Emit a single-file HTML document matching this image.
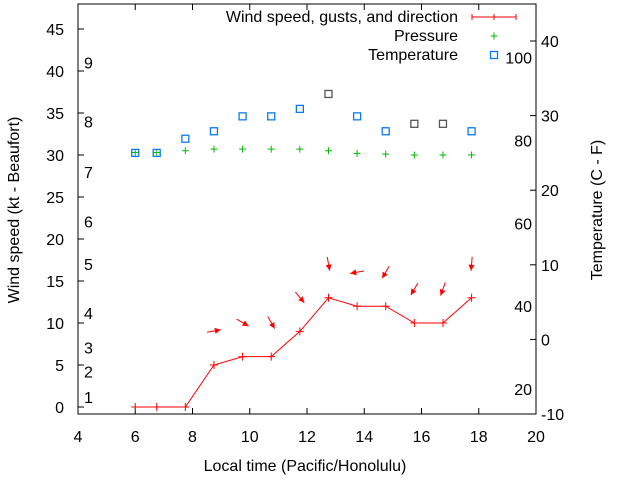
<!DOCTYPE html>
<html><head><meta charset="utf-8"><style>
body{margin:0;background:#fff;width:640px;height:480px;overflow:hidden}
svg{font-family:"Liberation Sans",sans-serif;font-size:16px}
</style></head><body>
<svg id="c" width="640" height="480"></svg>
<script>
const times=[6,6.75,7.75,8.75,9.75,10.75,11.75,12.75,13.75,14.75,15.75,16.75,17.75];
const windKt=[0,0,0,5,6,6,9,13,12,12,10,10,13];
const windDir=[null,null,null,260,300,330,320,350,80,30,30,20,5];
const pressure=[30.3,30.3,30.5,30.7,30.7,30.7,30.7,30.5,30.2,30.1,30.0,30.0,30.0];
const tempC=[25,25,26.9,27.9,29.9,29.9,30.9,32.9,29.9,27.9,28.9,28.9,27.9];
const tempGray=[0,0,0,0,0,0,0,1,0,0,1,1,0];
const xTicks=[4,6,8,10,12,14,16,18,20];
const yTicks=[0,5,10,15,20,25,30,35,40,45];
const cTicks=[-10,0,10,20,30,40];
const fLabels=[20,40,60,80,100];
const beaufort=[1,2,3,4,5,6,7,8,9];
const beaufortKt=[1.2,4.2,7.1,11.2,17,22.1,28,34,41];

const L=78,R=536,T=4,B=414;
const X=v=>L+(v-4)*(R-L)/16;
const Y=v=>407-v*8.4;
const YC=c=>414-(c+10)*7.46;
const NS="http://www.w3.org/2000/svg";
const svg=document.getElementById('c');
function mk(tag,at,parent){const e=document.createElementNS(NS,tag);for(const k in at)e.setAttribute(k,at[k]);(parent||svg).appendChild(e);return e;}
function txt(x,y,s,anchor,parent){const t=mk('text',{x:x,y:y,'text-anchor':anchor||'middle',fill:'#000'},parent);t.textContent=s;return t;}

const frame=mk('rect',{x:L,y:T,width:R-L,height:B-T,fill:'none',stroke:'#000'});



xTicks.forEach(v=>{const x=X(v);
 mk('line',{x1:x,y1:B,x2:x,y2:B-6,stroke:'#000'});mk('line',{x1:x,y1:T,x2:x,y2:T+6,stroke:'#000'});
 const t=txt(x,442,String(v));
 
 });
yTicks.forEach(v=>{const y=Y(v);
 mk('line',{x1:L,y1:y,x2:L+6,y2:y,stroke:'#000'});
 const t=txt(64,y+6,String(v),'end');
 
 });
cTicks.forEach(v=>{const y=YC(v);
 mk('line',{x1:R,y1:y,x2:R-6,y2:y,stroke:'#000'});
 const t=txt(541,y+6,String(v),'start');
 
 });
fLabels.forEach(f=>{const y=YC((f-32)*5/9);
 const t=txt(532,y+6,String(f),'end');
 
 });
beaufort.forEach((b,i)=>{
 const t=txt(84,Y(beaufortKt[i])+6,String(b),'start');
 
 });

let t=txt(305,471,'Local time (Pacific/Honolulu)');


t=txt(0,0,'Wind speed (kt - Beaufort)');t.setAttribute('transform','translate(19,210) rotate(-90)');


t=txt(0,0,'Temperature (C - F)');t.setAttribute('transform','translate(602,210) rotate(-90)');



const pl=mk('polyline',{points:times.map((v,i)=>X(v)+','+Y(windKt[i])).join(' '),fill:'none',stroke:'#f00'});


times.forEach((v,i)=>{const x=X(v),y=Y(windKt[i]);
 const g=mk('path',{d:`M${x-4},${y}H${x+4}M${x},${y-4}V${y+4}`,stroke:'#f00'});
 
 
 if(windDir[i]!==null){
  const a=(windDir[i]+180)*Math.PI/180,dx=Math.sin(a),dy=-Math.cos(a);
  const cx=x,cy=y-34,len=14;
  const hx=cx+dx*len/2,hy=cy+dy*len/2,tx=cx-dx*len/2,ty=cy-dy*len/2;
  const px=-dy,py=dx;
  const ar=mk('g',{});
  
  
  mk('line',{x1:tx,y1:ty,x2:hx,y2:hy,stroke:'#f00'},ar);
  mk('polygon',{points:`${hx},${hy} ${hx-dx*6+px*3},${hy-dy*6+py*3} ${hx-dx*6-px*3},${hy-dy*6-py*3}`,fill:'#f00'},ar);
 }
});
times.forEach((v,i)=>{const x=X(v),y=Y(pressure[i]);
 const g=mk('path',{d:`M${x-3.5},${y}H${x+3.5}M${x},${y-3.5}V${y+3.5}`,stroke:'#0b0'});
 
 });
times.forEach((v,i)=>{const x=X(v),y=YC(tempC[i]);
 const r=mk('rect',{x:x-3.5,y:y-3.5,width:7,height:7,fill:'none',stroke:tempGray[i]?'#555':'#0a7af0','stroke-width':1.3});
 
 });

const lg=mk('g',{});


txt(458,22,'Wind speed, gusts, and direction','end',lg);
txt(458,41,'Pressure','end',lg);
txt(458,60,'Temperature','end',lg);
mk('path',{d:'M472,17H516M472,14V20M494,14V20M516,14V20',stroke:'#f00'},lg);
mk('path',{d:'M490.5,36H497.5M494,32.5V39.5',stroke:'#0b0'},lg);
mk('rect',{x:490.5,y:51.5,width:7,height:7,fill:'none',stroke:'#0a7af0','stroke-width':1.3},lg);
</script>
</body></html>
